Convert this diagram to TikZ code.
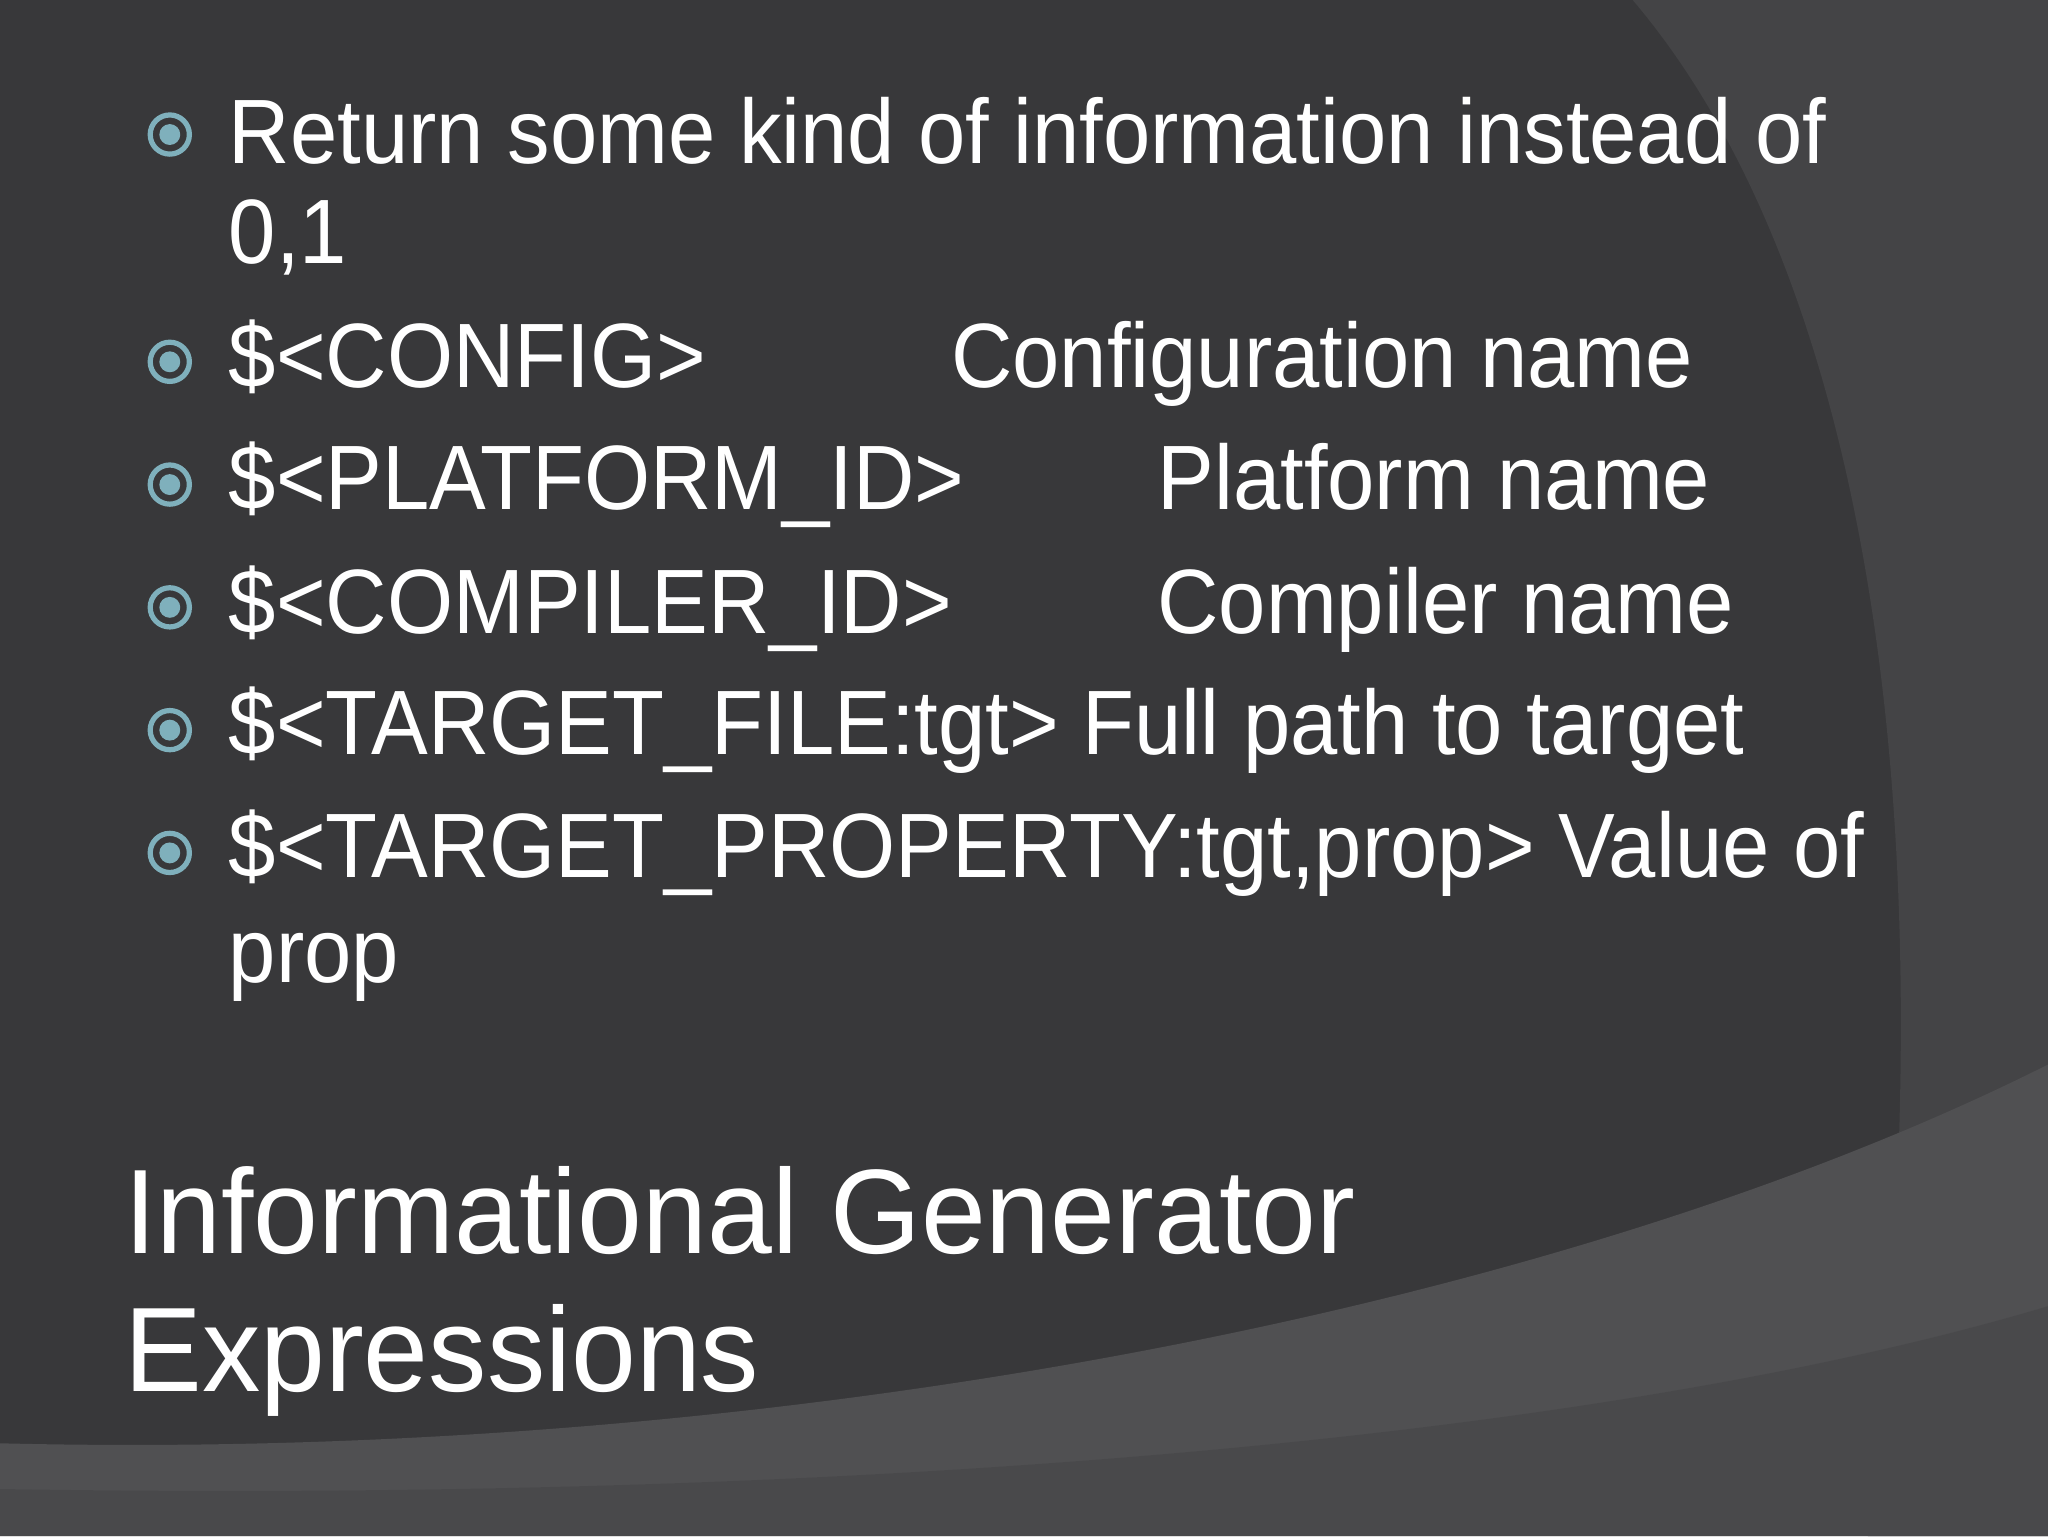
\documentclass[tikz,border=0pt]{standalone}
\usepackage{fontspec}
\setmainfont{Liberation Sans}
\definecolor{bgA}{HTML}{38383A}
\definecolor{bgB}{HTML}{444446}
\definecolor{bgC}{HTML}{505052}
\definecolor{bul}{HTML}{7FB0BC}
\newcommand{\sxa}[1]{\scalebox{0.93}[1]{#1}}
\newcommand{\sxb}[1]{\scalebox{0.97}[1]{#1}}
\tikzset{txt/.style={anchor=base west,text=white,inner sep=0pt,font=\fontsize{70}{80}\selectfont},
 ttl/.style={anchor=base west,text=white,inner sep=0pt,font=\fontsize{92}{100}\selectfont},
 bullet/.style={circle,draw=bul,line width=4pt,minimum size=30pt,inner sep=0pt,
   path picture={\fill[bul] (path picture bounding box.center) circle (8pt);}}}
\begin{document}
\begin{tikzpicture}[x=1pt,y=-1pt]
\useasboundingbox (0,0) rectangle (1568,1176);
\fill[bgA] (0,0) rectangle (1568,1176);
\fill[bgB] (1250,0) .. controls (1420,200) and (1500,600) .. (1430,1176) -- (1568,1176) -- (1568,0) -- cycle;
\fill[bgC] (0,1105) .. controls (600,1120) and (1200,1000) .. (1568,815) -- (1568,1176) -- (0,1176) -- cycle;
\fill[bgB,opacity=.5] (0,1176) -- (0,1140) .. controls (600,1150) and (1200,1110) .. (1568,1000) -- (1568,1176) -- cycle;
\foreach \n/\y in {b1/103,b2/277,b3/371,b4/465,b5/559,b6/653}{\node[bullet] (\n) at (130,\y) {};}
\node[txt] (t1) at (175,125) {\sxa{Return some kind of information instead of}};
\node[txt] (t1b) at (175,202) {\sxa{0,1}};
\node[txt] (t2) at (175,297) {\sxa{\$<CONFIG>}};
\node[txt] (d2) at (728,297) {\sxa{Configuration name}};
\node[txt] (t3) at (175,390) {\sxa{\$<PLATFORM\_ID>}};
\node[txt] (d3) at (886,390) {\sxa{Platform name}};
\node[txt] (t4) at (175,485) {\sxa{\$<COMPILER\_ID>}};
\node[txt] (d4) at (886,485) {\sxa{Compiler name}};
\node[txt] (t5) at (175,578) {\sxa{\$<TARGET\_FILE:tgt> Full path to target}};
\node[txt] (t6) at (175,672) {\sxa{\$<TARGET\_PROPERTY:tgt,prop> Value of}};
\node[txt] (t6b) at (175,752) {\sxa{prop}};
\node[ttl] (h1) at (95,960) {\sxb{Informational Generator}};
\node[ttl] (h2) at (95,1065) {\sxb{Expressions}};
\end{tikzpicture}
\end{document}
